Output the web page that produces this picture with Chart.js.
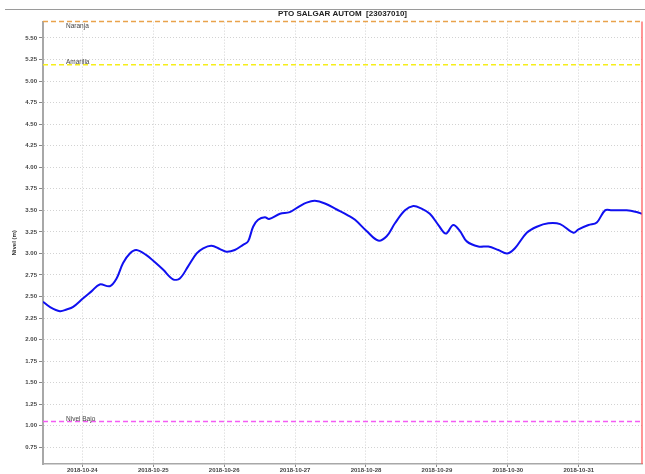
<!DOCTYPE html>
<html>
<head>
<meta charset="utf-8">
<script src="https://cdn.jsdelivr.net/npm/chart.js@4"></script>
<style>
  html, body { margin: 0; padding: 0; background: #fff; }
  #wrap { width: 645px; height: 474px; position: relative; }
</style>
</head>
<body>
<div id="wrap"><canvas id="chart" width="645" height="474"></canvas></div>
<script>
// Hours since 2018-10-23 00:00
const hours = [10.7, 13.0, 16.4, 18.7, 20.9, 24.3, 27.1, 29.9, 33.3, 35.6, 37.8, 40.1, 42.3, 45.7,
  48.5, 51.4, 54.7, 57.0, 59.8, 62.7, 64.9, 67.7, 70.6, 72.8, 75.6, 78.4, 80.1, 81.8, 83.5, 85.8,
  87.2, 90.9, 94.2, 97.6, 99.9, 102.7, 106.1, 110.1, 114.0, 116.3, 120.2, 124.1, 127.0, 129.8,
  133.2, 136.0, 138.8, 141.6, 144.5, 147.0, 149.5, 151.8, 154.1, 158.0, 161.4, 164.8, 167.8,
  170.4, 174.4, 177.8, 181.7, 185.7, 190.2, 191.9, 195.3, 198.1, 200.9, 203.2, 208.2, 211.6, 213.4];
// Nivel (m)
const levels = [2.44, 2.38, 2.33, 2.35, 2.38, 2.48, 2.56, 2.64, 2.62, 2.71, 2.89, 3.00, 3.04, 2.98,
  2.90, 2.81, 2.70, 2.71, 2.85, 3.00, 3.06, 3.09, 3.05, 3.02, 3.04, 3.10, 3.14, 3.31, 3.39, 3.42,
  3.40, 3.46, 3.48, 3.55, 3.59, 3.61, 3.58, 3.51, 3.44, 3.39, 3.26, 3.15, 3.20, 3.35,
  3.50, 3.55, 3.52, 3.46, 3.33, 3.23, 3.33, 3.26, 3.14, 3.08, 3.08, 3.04, 3.00,
  3.06, 3.24, 3.31, 3.35, 3.34, 3.24, 3.28, 3.33, 3.36, 3.50, 3.50, 3.50, 3.48, 3.46];

const thresholdNames = ['Naranja', 'Amarilla', 'Nivel Bajo'];
const thresholdLevels = [5.69, 5.19, 1.05];
const thresholdColors = ['#e9a34c', '#f6ee1a', '#f45cf4'];

const startDate = new Date(2018, 9, 23);
const xMin = 10.7, xMax = 213.4;
const yMin = 0.557, yMax = 5.69;
const nowHour = 213.4;

function dayLabel(h) {
  const d = new Date(startDate.getTime() + h * 3600 * 1000);
  const mm = String(d.getMonth() + 1).padStart(2, '0');
  const dd = String(d.getDate()).padStart(2, '0');
  return d.getFullYear() + '-' + mm + '-' + dd;
}

const thresholdSets = thresholdLevels.map((lvl, i) => ({
  label: thresholdNames[i],
  data: [{ x: xMin, y: lvl }, { x: xMax, y: lvl }],
  borderColor: thresholdColors[i],
  borderWidth: 1.5,
  borderDash: [5, 3],
  pointRadius: 0,
  clip: false,
  fill: false
}));

// draws the header rule and the threshold names
const extras = {
  id: 'extras',
  beforeDraw(chart) {
    const ctx = chart.ctx;
    ctx.save();
    ctx.fillStyle = '#fff';
    ctx.fillRect(0, 0, chart.width, chart.height);
    ctx.strokeStyle = '#9a9a9a';
    ctx.lineWidth = 1;
    ctx.beginPath();
    ctx.moveTo(5, 9.5);
    ctx.lineTo(chart.width, 9.5);
    ctx.stroke();
    ctx.restore();
  },
  afterDatasetsDraw(chart) {
    const ctx = chart.ctx;
    const y = chart.scales.y;
    ctx.save();
    ctx.font = '6.5px "Liberation Sans", Arial, sans-serif';
    ctx.fillStyle = '#444';
    ctx.textAlign = 'left';
    thresholdLevels.forEach((lvl, i) => {
      const py = y.getPixelForValue(lvl);
      ctx.textBaseline = i === 0 ? 'top' : 'bottom';
      ctx.fillText(thresholdNames[i], 66, py + 1);
    });
    ctx.restore();
  }
};

new Chart(document.getElementById('chart'), {
  type: 'line',
  data: {
    datasets: [
      ...thresholdSets,
      {
        label: 'now',
        data: [{ x: nowHour, y: yMin }, { x: nowHour, y: yMax }],
        borderColor: 'rgba(255, 90, 90, 0.85)',
        borderWidth: 1.5,
        pointRadius: 0,
        clip: false
      },
      {
        label: 'Nivel',
        data: hours.map((h, i) => ({ x: h, y: levels[i] })),
        borderColor: '#1010f0',
        borderWidth: 2,
        pointRadius: 0,
        tension: 0.35,
        fill: false
      }
    ]
  },
  options: {
    responsive: false,
    animation: false,
    devicePixelRatio: 1,
    layout: { padding: { left: 0, right: 3, top: 0, bottom: 0 } },
    plugins: {
      legend: { display: false },
      tooltip: { enabled: false },
      title: {
        display: true,
        fullSize: false,
        text: 'PTO SALGAR AUTOM  [23037010]',
        color: '#222',
        font: { family: '"Liberation Sans", Arial, sans-serif', size: 8, weight: 'bold', lineHeight: 1.2 },
        padding: { top: 9, bottom: 3 }
      }
    },
    scales: {
      x: {
        type: 'linear',
        min: xMin,
        max: xMax,
        afterFit: s => { s.height = 10; },
        border: { color: '#a8a8a8', width: 1.5, dash: [1, 2] },
        grid: { color: '#d2d2d2', tickLength: 3, tickColor: '#888', lineWidth: 1 },
        ticks: {
          stepSize: 24,
          includeBounds: false,
          autoSkip: false,
          maxRotation: 0,
          padding: 0,
          color: '#444',
          font: { family: '"Liberation Sans", Arial, sans-serif', size: 6, weight: 'bold' },
          callback: v => dayLabel(v)
        }
      },
      y: {
        min: yMin,
        max: yMax,
        afterFit: s => { s.width = 43; },
        border: { color: '#a8a8a8', width: 2, dash: [1, 2] },
        grid: { color: '#d2d2d2', tickLength: 4, tickColor: '#888', lineWidth: 1 },
        title: {
          display: true,
          text: 'Nivel (m)',
          color: '#333',
          font: { family: '"Liberation Sans", Arial, sans-serif', size: 6, weight: 'bold' },
          padding: { top: 11, bottom: 0 }
        },
        ticks: {
          stepSize: 0.25,
          includeBounds: false,
          maxTicksLimit: 30,
          padding: 2,
          color: '#444',
          font: { family: '"Liberation Sans", Arial, sans-serif', size: 6, weight: 'bold' },
          callback: v => v.toFixed(2)
        }
      }
    }
  },
  plugins: [extras]
});
</script>
</body>
</html>
